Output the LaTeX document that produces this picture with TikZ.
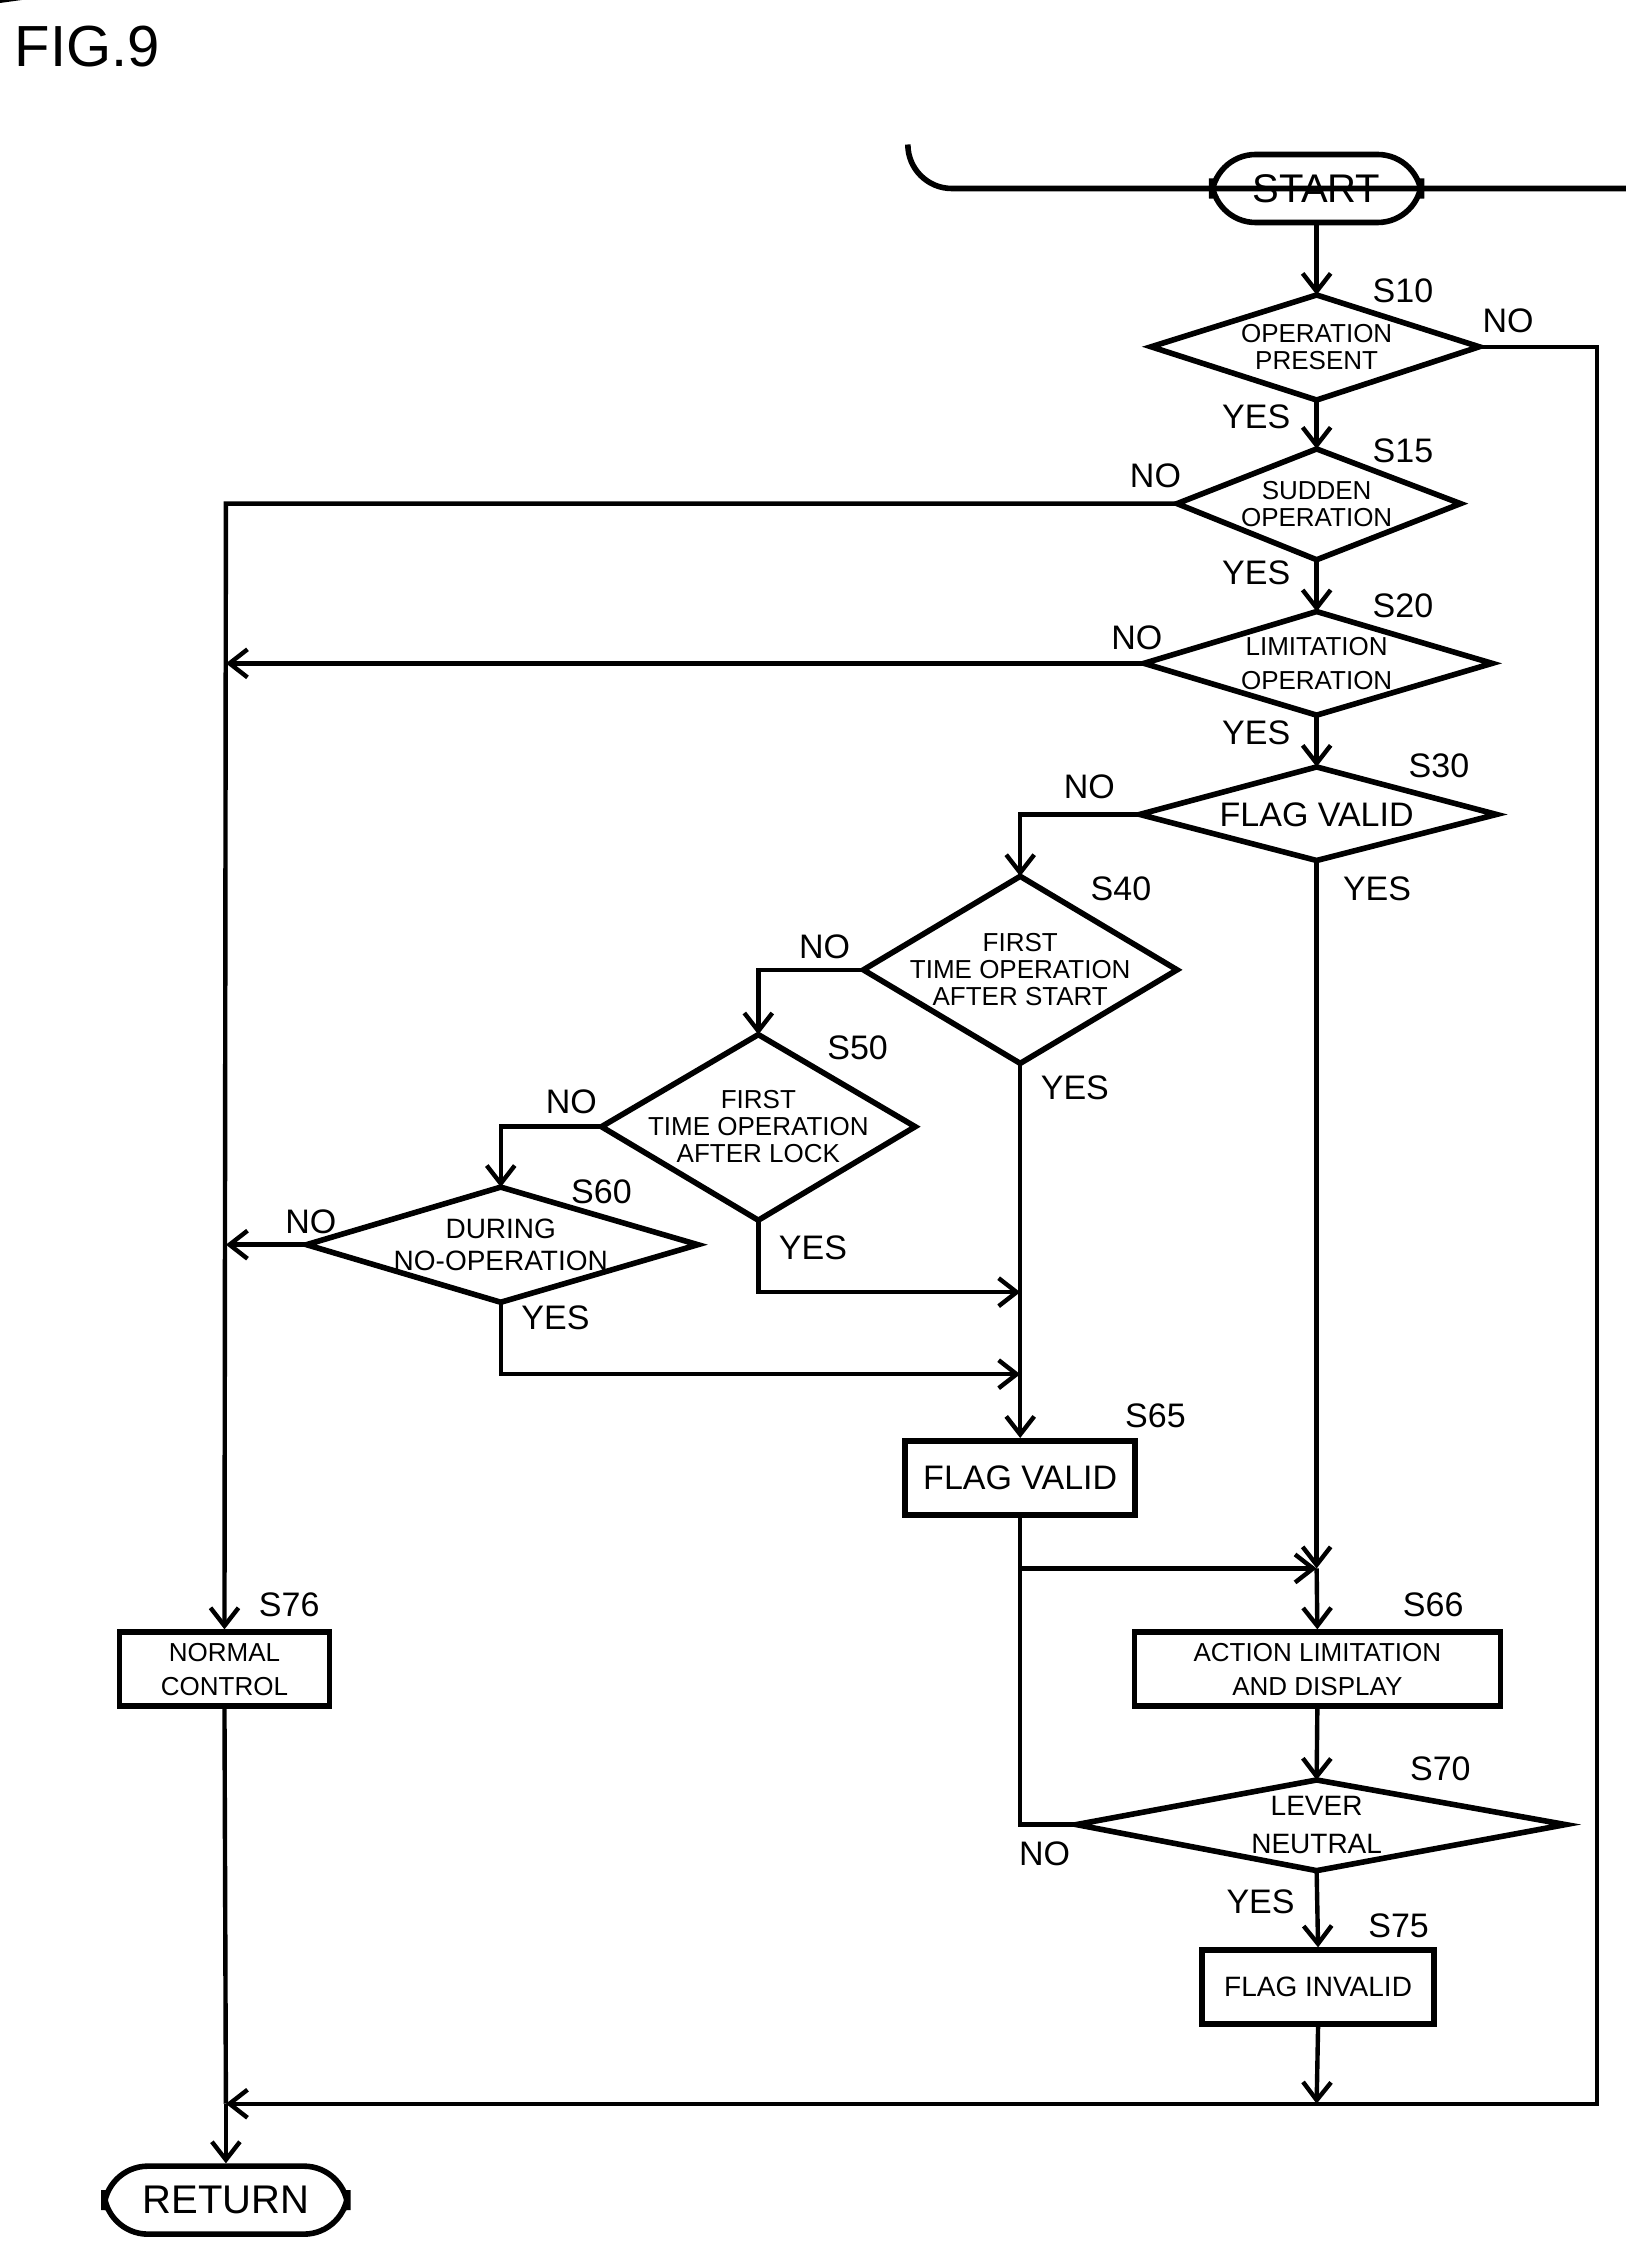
\documentclass[tikz,border=0pt]{standalone}
\usepackage{fontspec}
\setmainfont{Liberation Sans}
\usetikzlibrary{arrows.meta,shapes.geometric}
\begin{document}
\begin{tikzpicture}[x=0.7195pt,y=-0.7195pt,
  shp/.style={draw,line width=2.8pt,inner sep=0pt},
  dia/.style={shp,diamond,minimum width=#1},
  box/.style={shp,rectangle,inner sep=0pt},
  term/.style={shp,rounded corners=22pt,inner sep=0pt},
  ln/.style={line width=2.2pt},
  ar/.style={ln,-{Straight Barb[length=9pt,width=14pt,line width=2.2pt]}},
  dt/.style={font=\fontsize{13}{13.5}\selectfont,align=center,inner sep=0pt},
  lb/.style={font=\fontsize{17}{17}\selectfont,inner sep=0pt},
  bt/.style={font=\fontsize{13}{17}\selectfont,align=center,inner sep=0pt}]
\useasboundingbox (0,0) rectangle (1130,1572);
\node[lb,font=\fontsize{29}{29}\selectfont,anchor=west] (fig) at (10,32) {FIG.9};
% terminals
\node[term,minimum width=146\pgflinewidth,minimum height=0pt] (start) at (915,131) {};
\path (start.center) node[term,minimum width=105pt,minimum height=34pt,font=\fontsize{20}{20}\selectfont] (st) {START};
\node[term,minimum width=122pt,minimum height=34pt,font=\fontsize{20}{20}\selectfont] (ret) at (157,1529) {RETURN};
% diamonds
\node[dia=1pt,minimum width=0pt] (dummy) at (0,0) {};
\path (915,241) coordinate (c10) (915,350) coordinate (c15) (915,461) coordinate (c20)
      (915,566) coordinate (c30) (709,674) coordinate (c40) (527,783) coordinate (c50)
      (348,865) coordinate (c60) (915,1268) coordinate (c70);
\draw[shp] (800,241) coordinate (s10w) -- (915,205) coordinate (s10n) -- (1028,241) coordinate (s10e) -- (915,278) coordinate (s10s) -- cycle;
\draw[shp] (818,350) coordinate (s15w) -- (915,312) coordinate (s15n) -- (1015,350) -- (915,389) coordinate (s15s) -- cycle;
\draw[shp] (795,461) coordinate (s20w) -- (915,425) coordinate (s20n) -- (1037,461) -- (915,497) coordinate (s20s) -- cycle;
\draw[shp] (792,566) coordinate (s30w) -- (915,533) coordinate (s30n) -- (1040,566) -- (915,598) coordinate (s30s) -- cycle;
\draw[shp] (600,674) coordinate (s40w) -- (709,609) coordinate (s40n) -- (818,674) -- (709,739) coordinate (s40s) -- cycle;
\draw[shp] (418,783) coordinate (s50w) -- (527,719) coordinate (s50n) -- (636,783) -- (527,848) coordinate (s50s) -- cycle;
\draw[shp] (213,865) coordinate (s60w) -- (348,825) coordinate (s60n) -- (485,865) -- (348,905) coordinate (s60s) -- cycle;
\draw[shp] (748,1268) coordinate (s70w) -- (915,1237) coordinate (s70n) -- (1088,1268) -- (915,1300) coordinate (s70s) -- cycle;
\node[dt] (t10) at (c10) {OPERATION\\PRESENT};
\node[dt] (t15) at (c15) {SUDDEN\\OPERATION};
\node[dt,font=\fontsize{13}{17}\selectfont] (t20) at (c20) {LIMITATION\\OPERATION};
\node[dt,font=\fontsize{17}{17}\selectfont] (t30) at (c30) {FLAG VALID};
\node[dt] (t40) at (c40) {FIRST\\TIME OPERATION\\AFTER START};
\node[dt] (t50) at (c50) {FIRST\\TIME OPERATION\\AFTER LOCK};
\node[dt,font=\fontsize{14}{16}\selectfont] (t60) at (c60) {DURING\\NO-OPERATION};
\node[dt,font=\fontsize{14}{19}\selectfont] (t70) at (c70) {LEVER\\NEUTRAL};
% boxes
\node[box,minimum width=115pt,minimum height=37pt,font=\fontsize{17}{17}\selectfont] (s65) at (709,1027) {FLAG VALID};
\node[box,minimum width=183pt,minimum height=37pt,bt] (s66) at (915.5,1160) {ACTION LIMITATION\\AND DISPLAY};
\node[box,minimum width=116pt,minimum height=37pt,font=\fontsize{14}{14}\selectfont] (s75) at (916,1381) {FLAG INVALID};
\node[box,minimum width=105pt,minimum height=37pt,bt] (s76) at (156,1160) {NORMAL\\CONTROL};
% step labels
\node[lb] (l10) at (975,202) {S10};
\node[lb] (l15) at (975,313) {S15};
\node[lb] (l20) at (975,421) {S20};
\node[lb] (l30) at (1000,532) {S30};
\node[lb] (l40) at (779,618) {S40};
\node[lb] (l50) at (596,728) {S50};
\node[lb] (l60) at (418,828) {S60};
\node[lb] (l65) at (803,984) {S65};
\node[lb] (l66) at (996,1115) {S66};
\node[lb] (l70) at (1001,1229) {S70};
\node[lb] (l75) at (972,1338) {S75};
\node[lb] (l76) at (201,1115) {S76};
% yes/no
\node[lb] (n10) at (1048,223) {NO};
\node[lb] (y10) at (873,290) {YES};
\node[lb] (n15) at (803,331) {NO};
\node[lb] (y15) at (873,398) {YES};
\node[lb] (n20) at (790,443) {NO};
\node[lb] (y20) at (873,509) {YES};
\node[lb] (n30) at (757,547) {NO};
\node[lb] (y30) at (957,618) {YES};
\node[lb] (n40) at (573,658) {NO};
\node[lb] (y40) at (747,756) {YES};
\node[lb] (n50) at (397,766) {NO};
\node[lb] (y50) at (565,867) {YES};
\node[lb] (n60) at (216,849) {NO};
\node[lb] (y60) at (386,916) {YES};
\node[lb] (n70) at (726,1288) {NO};
\node[lb] (y70) at (876,1322) {YES};
% junction coordinates
\coordinate (jr) at (1110,1462);
\coordinate (jm) at (915,1462);
\coordinate (jl) at (157,1462);
\coordinate (j15) at (157,350);
\coordinate (j20) at (157,461);
\coordinate (j60) at (157,865);
\coordinate (jv) at (709,898);
\coordinate (jv2) at (709,955);
\coordinate (jb) at (915,1090);
\coordinate (jb0) at (709,1090);
% connectors
\draw[ar] (st.south) -- (s10n);
\draw[ar] (s10s) -- (s15n);
\draw[ar] (s15s) -- (s20n);
\draw[ar] (s20s) -- (s30n);
\draw[ln] (s10e) -- (1110,241) -- (jr) -- (jm);
\draw[ar] (jm) -- (jl);
\draw[ar] (jl) -- (ret.north);
\draw[ar] (s15w) -- (j15) -- (s76.north);
\draw[ar] (s20w) -- (j20);
\draw[ar] (s30w) -| (s40n);
\draw[ar] (s30s) -- (jb);
\draw[ar] (jb) -- (s66.north);
\draw[ar] (s40w) -| (s50n);
\draw[ar] (s40s) -- (s65.north);
\draw[ar] (s50w) -| (s60n);
\draw[ar] (s50s) |- (jv);
\draw[ar] (s60w) -- (j60);
\draw[ar] (s60s) |- (jv2);
\draw[ln] (s65.south) -- (jb0) |- (s70w);
\draw[ar] (jb0) -- (jb);
\draw[ar] (s66.south) -- (s70n);
\draw[ar] (s70s) -- (s75.north);
\draw[ar] (s75.south) -- (jm);
\draw[ln] (s76.south) -- (jl);
\end{tikzpicture}
\end{document}
